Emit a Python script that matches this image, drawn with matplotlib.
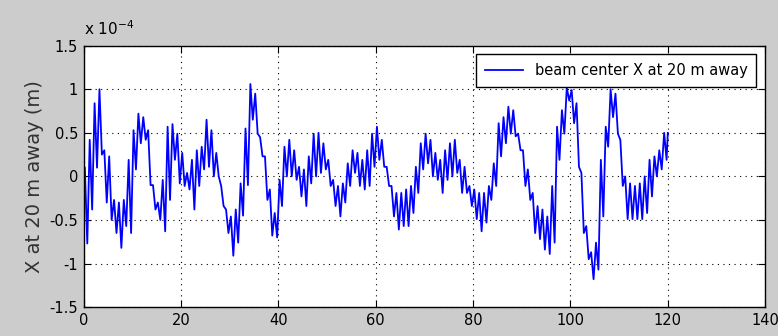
import numpy as np
import matplotlib
matplotlib.use("Agg")
import matplotlib.pyplot as plt
from matplotlib.ticker import FuncFormatter

# beam centre X, in units of 1e-4 m
# one (high, low) pair per second, t = 0 .. 119
x_high = [0.10, 0.42, 0.84, 1.00, 0.30, 0.23, -0.27, -0.30, -0.27, 0.19,
          0.53, 0.72, 0.68, 0.53, -0.10, -0.30, -0.04, 0.57, 0.60, 0.49,
          0.27, 0.04, 0.19, 0.30, 0.34, 0.65, 0.53, 0.27, -0.11, -0.38,
          -0.46, -0.38, -0.08, 0.55, 1.06, 0.95, 0.45, 0.23, -0.15, -0.42,
          -0.04, 0.34, 0.42, 0.30, 0.11, 0.08, 0.23, 0.49, 0.50, 0.38,
          0.19, -0.04, -0.11, -0.08, 0.15, 0.30, 0.27, 0.19, 0.30, 0.49,
          0.57, 0.42, 0.11, -0.11, -0.19, -0.19, -0.15, -0.11, 0.11, 0.38,
          0.49, 0.42, 0.27, 0.19, 0.30, 0.38, 0.42, 0.19, 0.11, -0.11,
          -0.15, -0.19, -0.19, -0.11, 0.15, 0.61, 0.68, 0.80, 0.76, 0.49,
          0.30, 0.08, -0.19, -0.34, -0.38, -0.46, -0.11, 0.57, 0.76, 1.02,
          0.99, 0.84, 0.04, -0.57, -0.87, -0.76, 0.19, 0.57, 1.00, 0.95,
          0.42, 0.00, -0.08, -0.11, -0.08, 0.00, 0.19, 0.23, 0.30, 0.50]
x_low = [-0.77, -0.38, 0.10, 0.25, -0.30, -0.50, -0.65, -0.82, -0.57, -0.65,
         0.08, 0.38, 0.42, -0.10, -0.38, -0.50, -0.63, -0.27, 0.19, -0.08,
         -0.11, -0.15, -0.38, -0.11, 0.08, 0.11, 0.00, 0.00, -0.34, -0.65,
         -0.91, -0.76, -0.45, -0.10, 0.65, 0.49, 0.23, -0.27, -0.68, -0.70,
         -0.34, 0.00, 0.00, -0.04, -0.23, -0.34, -0.08, 0.00, 0.04, 0.08,
         -0.11, -0.34, -0.46, -0.30, -0.11, 0.04, -0.11, -0.15, -0.11, 0.11,
         0.19, 0.11, -0.11, -0.46, -0.61, -0.57, -0.57, -0.42, -0.19, 0.08,
         0.15, 0.00, -0.04, -0.19, -0.04, 0.00, 0.04, -0.19, -0.19, -0.34,
         -0.49, -0.63, -0.53, -0.27, -0.11, 0.23, 0.38, 0.49, 0.46, 0.30,
         -0.11, -0.27, -0.65, -0.72, -0.84, -0.89, -0.76, 0.19, 0.49, 0.87,
         0.61, 0.11, -0.65, -0.95, -1.18, -1.07, -0.46, 0.34, 0.68, 0.49,
         -0.11, -0.49, -0.49, -0.49, -0.49, -0.42, -0.23, 0.00, 0.08, 0.19]
x_end = 0.50

sec = np.arange(len(x_high))
t = np.concatenate([np.column_stack([sec + 0.25, sec + 0.75]).ravel(), [120.0]])
x = np.concatenate([np.column_stack([x_high, x_low]).ravel(), [x_end]]) * 1e-4

fig = plt.figure(figsize=(7.78, 3.36), dpi=100, facecolor="#cccccc")
ax = fig.add_axes([0.1075, 0.086, 0.876, 0.778])

ax.plot(t, x, color="#0000ff", lw=1.3, label="beam center X at 20 m away")

ax.set_xlim(0, 140)
ax.set_ylim(-1.5e-4, 1.5e-4)
ax.set_xticks(np.arange(0, 141, 20))
ax.set_yticks(np.arange(-1.5e-4, 1.51e-4, 0.5e-4))
ax.yaxis.set_major_formatter(FuncFormatter(lambda v, p: "%g" % round(v / 1e-4, 2)))
ax.tick_params(direction="in", top=True, right=True, length=5, labelsize=10.5,
               colors="black", pad=4)
ax.grid(True, color="black", linestyle=(0, (1, 4)), linewidth=0.8)
for s in ax.spines.values():
    s.set_linewidth(1.0)

ax.set_ylabel("X at 20 m away (m)", fontsize=14, color="#333333", labelpad=4)
ax.text(0.0, 1.03, r"x 10$^{-4}$", transform=ax.transAxes, fontsize=11, va="bottom")

leg = ax.legend(loc="upper right", fontsize=10.5, fancybox=False, framealpha=1,
                edgecolor="black", borderaxespad=0.6, borderpad=0.6,
                handlelength=2.6)
leg.get_frame().set_linewidth(1.0)

fig.savefig("out.png", dpi=100, facecolor=fig.get_facecolor())
